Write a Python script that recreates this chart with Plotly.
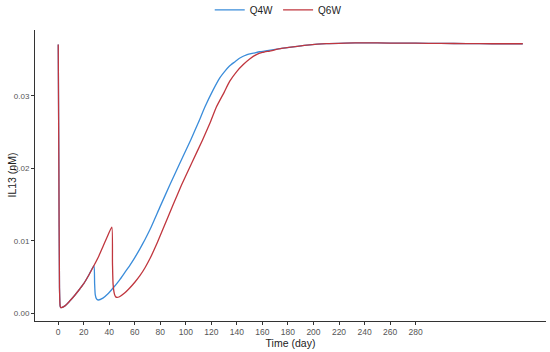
import plotly.graph_objects as go

# Time (day) and IL13 (nM) values
q4w_t = [0, 0.5, 1, 1.5, 2, 5, 9, 13, 17, 20, 24, 28, 28.5, 29, 30, 31.3, 35, 39, 43, 48, 52, 56, 60, 64, 68,
         72, 80, 87.4, 95, 104, 110, 115, 121, 126.6, 130, 134, 138.3, 142, 148, 153, 158, 165, 175, 184, 195,
         210, 225, 240, 260, 280, 300, 320, 340, 364]
q4w_v = [0.0371, 0.0200, 0.0035, 0.0010, 0.0008, 0.0010, 0.0017, 0.0025, 0.0034, 0.0041, 0.0053, 0.0066,
         0.0042, 0.0026, 0.0020, 0.00185, 0.0021, 0.0027, 0.0035, 0.0046, 0.0056, 0.0066, 0.0077, 0.0089,
         0.0102, 0.0116, 0.0148, 0.0177, 0.0206, 0.0240, 0.0264, 0.0285, 0.0307, 0.0325, 0.0333, 0.0341,
         0.0347, 0.0352, 0.0357, 0.0359, 0.0361, 0.0363, 0.03655, 0.03677, 0.0370, 0.03722, 0.0373, 0.03733,
         0.0373, 0.03728, 0.03725, 0.03722, 0.0372, 0.0372]

q6w_t = [0, 0.5, 1, 1.5, 2, 5, 9, 13, 17, 20, 24, 28, 32, 35, 38, 42, 42.5, 43, 44, 45, 46, 48, 52, 56, 60,
         64, 68, 72, 77.5, 82, 90, 96.6, 105, 113, 119, 124, 130, 134.3, 140, 144.8, 150, 155.3, 160, 165.7,
         175, 184, 195, 210, 225, 240, 260, 280, 300, 320, 340, 364]
q6w_v = [0.0371, 0.0200, 0.0035, 0.0010, 0.0008, 0.0010, 0.0017, 0.0025, 0.0034, 0.0041, 0.0053, 0.0066,
         0.0080, 0.0092, 0.0104, 0.0119, 0.0070, 0.0040, 0.0027, 0.0023, 0.0022, 0.0023, 0.0028, 0.0035,
         0.0043, 0.0052, 0.0063, 0.0076, 0.0097, 0.0116, 0.0150, 0.0177, 0.0209, 0.0239, 0.0263, 0.0285,
         0.0305, 0.0320, 0.0334, 0.0343, 0.0351, 0.0357, 0.0360, 0.0362, 0.03655, 0.03677, 0.0370,
         0.03722, 0.0373, 0.03733, 0.0373, 0.03728, 0.03725, 0.03722, 0.0372, 0.0372]

x_ticks = list(range(0, 281, 20))
y_ticks = [0.00, 0.01, 0.02, 0.03]

fig = go.Figure()
fig.add_trace(go.Scatter(x=q4w_t, y=q4w_v, mode="lines", name="Q4W",
                         line=dict(color="#3A8CDA", width=1.3, shape="spline", smoothing=0.5)))
fig.add_trace(go.Scatter(x=q6w_t, y=q6w_v, mode="lines", name="Q6W",
                         line=dict(color="#C0363E", width=1.3, shape="spline", smoothing=0.5)))

fig.update_layout(
    width=550, height=352,
    margin=dict(l=35, r=4, t=30, b=31, autoexpand=False),
    paper_bgcolor="white", plot_bgcolor="white",
    font=dict(family="Liberation Sans, Arial, sans-serif", size=10.5, color="#222"),
    showlegend=True,
    legend=dict(orientation="h", x=0.476, xanchor="center", y=1.069, yanchor="middle",
                yref="paper", font=dict(size=10, color="#222"), itemwidth=30,
                bgcolor="rgba(0,0,0,0)"),
    xaxis=dict(range=[-18.2, 382.2], tickvals=x_ticks, ticktext=[str(v) for v in x_ticks],
               automargin=False,
               showgrid=False, zeroline=False, showline=True, linecolor="#333", linewidth=1,
               ticks="outside", ticklen=3, tickcolor="#333",
               tickfont=dict(size=8.5, color="#555"),
               title=dict(text="Time (day)", font=dict(size=10.5, color="#222"), standoff=1)),
    yaxis=dict(range=[-0.00105, 0.0391], tickvals=y_ticks, ticktext=["0.00", "0.01", "0.02", "0.03"],
               automargin=False,
               showgrid=False, zeroline=False, showline=True, linecolor="#333", linewidth=1,
               ticks="outside", ticklen=3, tickcolor="#333",
               tickfont=dict(size=8, color="#555")),
    annotations=[dict(text="IL13 (nM)", textangle=-90, xref="paper", yref="paper",
                      x=-24 / 511, y=0.5, xanchor="center", yanchor="middle", showarrow=False,
                      font=dict(size=10.5, color="#222"))],
)

fig.write_html("out.html", config={"displayModeBar": False},
               post_script="document.body.style.margin='0';")
